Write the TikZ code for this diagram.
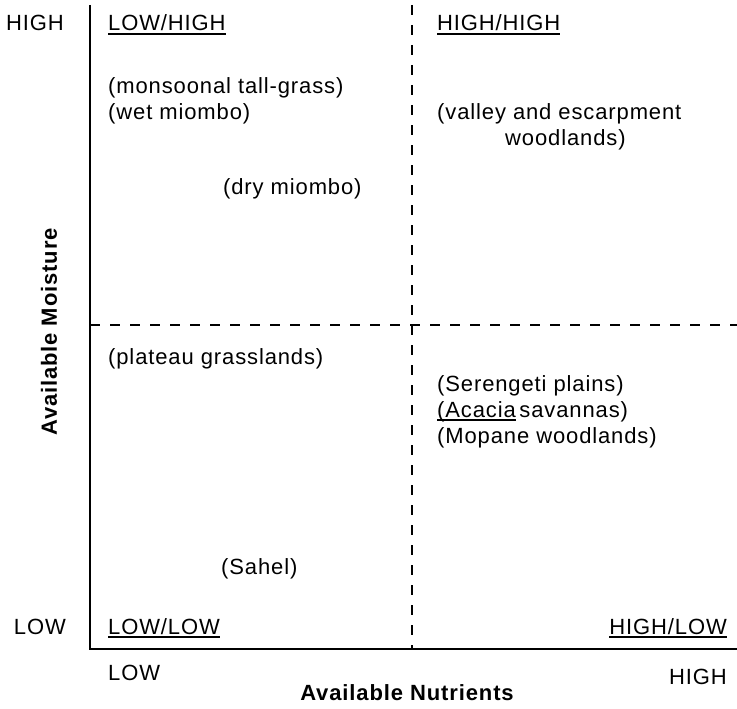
\documentclass[tikz,border=0pt]{standalone}
\usepackage{fontspec}
\setmainfont{Liberation Sans}[LetterSpace=4.0]
\newcommand\ulx[1]{\setbox0\hbox{#1}\rlap{\rule[-3.6pt]{\wd0}{1.6pt}}\box0}
\tikzset{
  lbl/.style={font=\fontsize{22}{26}\selectfont, inner sep=0pt, anchor=base west},
  lble/.style={lbl, anchor=base east},
  axisline/.style={line width=1.5pt, black},
  quadline/.style={line width=1.2pt, black, dash pattern=on 10pt off 10pt},
}
\begin{document}
\begin{tikzpicture}[x=1pt,y=-1pt]
\useasboundingbox (0,0) rectangle (737,709);
% reference points
\coordinate (axtop) at (90,5);
\coordinate (origin) at (90,649);
\coordinate (axright) at (737,649);
\coordinate (vtop) at (412,5);
\coordinate (vbot) at (412,649);
\coordinate (hleft) at (90,325);
\coordinate (hright) at (737,325);
% axes and quadrant lines
\draw[quadline] (vtop) -- (vbot);
\draw[quadline] (hleft) -- (hright);
\draw[axisline] (axtop) -- (origin) -- (axright);
% axis value labels
\node[lble] (yhigh) at (64,31) {HIGH};
\node[lble] (ylow) at (66,634) {LOW};
\node[lbl] (xlow) at (108,680) {LOW};
\node[lble] (xhigh) at (727,684) {HIGH};
% axis titles
\node[font=\fontsize{22}{26}\selectfont\bfseries, inner sep=0pt, rotate=90] (ytitle) at (49,332) {Available Moisture};
\node[font=\fontsize{22}{26}\selectfont\bfseries, inner sep=0pt, anchor=base] (xtitle) at (407,700) {Available Nutrients};
% quadrant titles
\node[lbl] (qlh) at (108,31) {\ulx{LOW/HIGH}};
\node[lbl] (qhh) at (437,31) {\ulx{HIGH/HIGH}};
\node[lbl] (qll) at (108,634) {\ulx{LOW/LOW}};
\node[lble] (qhl) at (727,634) {\ulx{HIGH/LOW}};
% vegetation types
\node[lbl] (monsoon) at (108,94) {(monsoonal tall-grass)};
\node[lbl] (wetmiombo) at (108,120) {(wet miombo)};
\node[lbl] (drymiombo) at (223,194) {(dry miombo)};
\node[lbl] (valley1) at (437,120) {(valley and escarpment};
\node[lbl] (valley2) at (505,146) {woodlands)};
\node[lbl] (plateau) at (108,364) {(plateau grasslands)};
\node[lbl] (serengeti) at (437,391) {(Serengeti plains)};
\node[lbl] (acacia) at (437,417) {\ulx{(Acacia}\,savannas)};
\node[lbl] (mopane) at (437,443) {(Mopane woodlands)};
\node[lbl] (sahel) at (221,574) {(Sahel)};
\end{tikzpicture}
\end{document}
